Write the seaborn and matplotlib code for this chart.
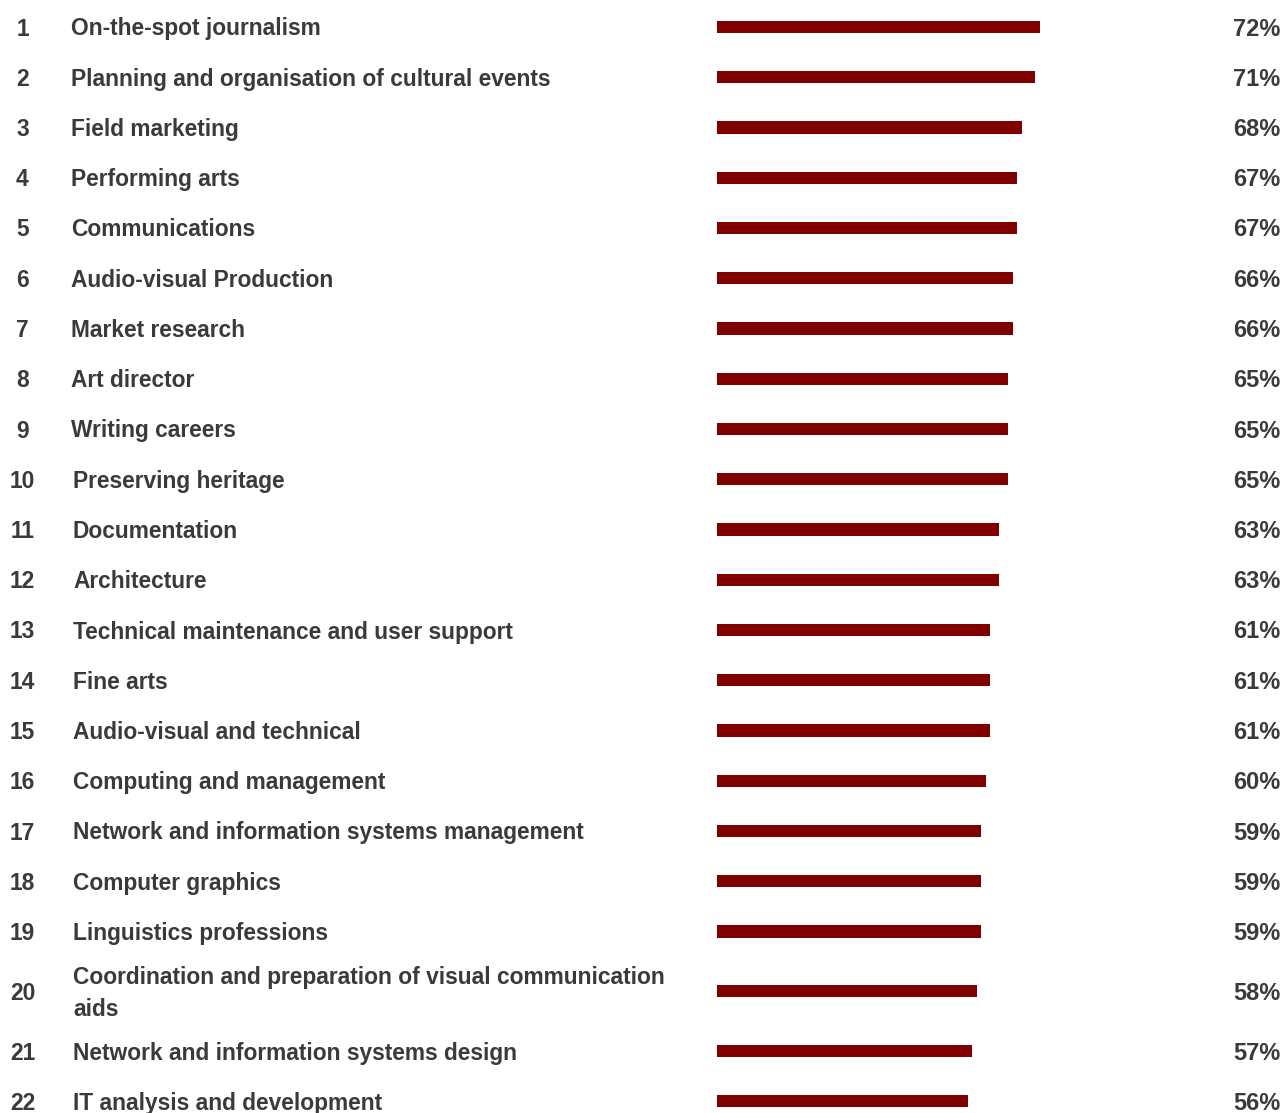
import numpy as np
import pandas as pd
import matplotlib
matplotlib.use("Agg")
import matplotlib.pyplot as plt
import matplotlib.transforms as mtransforms
import seaborn as sns

ranks = list(range(1, 23))
labels = [
    "On-the-spot journalism",
    "Planning and organisation of cultural events",
    "Field marketing",
    "Performing arts",
    "Communications",
    "Audio-visual Production",
    "Market research",
    "Art director",
    "Writing careers",
    "Preserving heritage",
    "Documentation",
    "Architecture",
    "Technical maintenance and user support",
    "Fine arts",
    "Audio-visual and technical",
    "Computing and management",
    "Network and information systems management",
    "Computer graphics",
    "Linguistics professions",
    "Coordination and preparation of visual communication\naids",
    "Network and information systems design",
    "IT analysis and development",
]
values = [72, 71, 68, 67, 67, 66, 66, 65, 65, 65, 63, 63, 61, 61, 61, 60, 59, 59, 59, 58, 57, 56]

sns.set_theme(style="white")
plt.rcParams['font.family'] = ['Liberation Sans', 'DejaVu Sans']

W, H = 1284, 1113
fig = plt.figure(figsize=(W / 100, H / 100), dpi=100)

# row positions: extra space around wrapped labels
extra = 0.19
pos = []
y = 0.0
prev_lines = 1
for i, lab in enumerate(labels):
    lines = lab.count("\n") + 1
    if i > 0:
        y += 1 + extra * (lines - 1) + extra * (prev_lines - 1)
    pos.append(y)
    prev_lines = lines

unit = 50.25
top_px = 27
x0_px = 717
px_per_pct = 4.48

ax = fig.add_axes([x0_px / W, 0, 1 - x0_px / W, 1])
df = pd.DataFrame({"pos": pos, "value": values})
sns.barplot(data=df, x="value", y="pos", orient="h", native_scale=True,
            color="#800000", saturation=1, width=0.24, ax=ax, linewidth=0)
ax.set_xlim(0, (W - x0_px) / px_per_pct)
ax.set_ylim((H - top_px) / unit, -top_px / unit)
ax.axis("off")

trans = mtransforms.blended_transform_factory(fig.transFigure, ax.transData)
trans = mtransforms.offset_copy(trans, fig=fig, y=-2, units="dots")
txtc = "#3a3a3a"
fs = 16.4
for r, lab, v, p in zip(ranks, labels, values, pos):
    fig.text(22.5 / W, p, str(r), transform=trans, ha="center", va="center",
             fontsize=fs, fontweight="bold", color=txtc)
    lx = 71 if r < 10 else 73
    fig.text(lx / W, p, lab, transform=trans, ha="left", va="center",
             fontsize=fs, fontweight="bold", color=txtc, linespacing=1.52)
    fig.text(1280 / W, p, f"{v}%", transform=trans, ha="right", va="center",
             fontsize=fs + 0.6, fontweight="bold", color=txtc)

fig.savefig("out.png", dpi=100)
